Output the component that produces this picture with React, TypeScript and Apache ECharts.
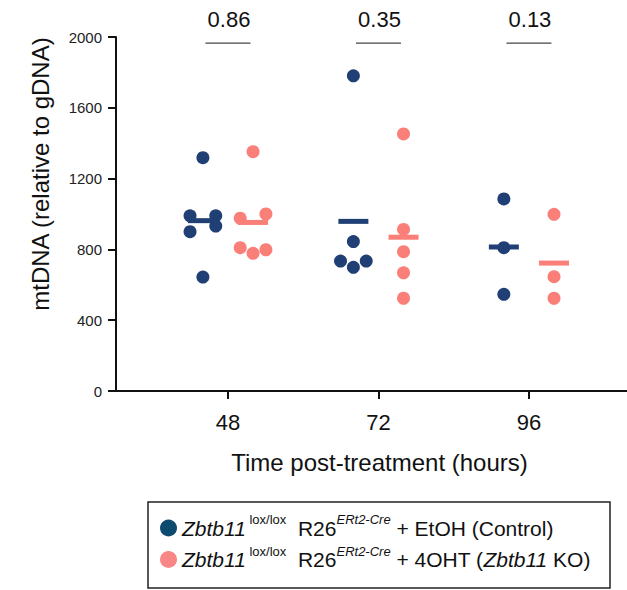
import React, { useEffect, useRef } from "react";
import * as echarts from "echarts";

// ---- data ----
const hours = [48, 72, 96];
const controlValues = [
  [1318, 990, 990, 932, 900, 644],
  [1781, 844, 734, 699, 734],
  [1085, 810, 546],
];
const koValues = [
  [1352, 976, 1000, 810, 778, 798],
  [1452, 913, 787, 668, 524],
  [998, 646, 524],
];
// swarm slot of each point (-1 left, 0 centre, +1 right)
const controlSlots = [
  [0, -1, 1, 1, -1, 0],
  [0, 0, -1, 0, 1],
  [0, 0, 0],
];
const koSlots = [
  [0, -1, 1, -1, 0, 1],
  [0, 0, 0, 0, 0],
  [0, 0, 0],
];
const pValues = ["0.86", "0.35", "0.13"];
const yTickMax = 2000;
const yTickStep = 400;

// ---- layout constants ----
const GROUP_OFFSET = 4; // hours
const SLOT_WIDTH = 2.05; // hours
const P_LINE_Y = 1965;
const NAVY = "#203f75";
const PINK = "#fa7f78";
const FONT = "'Liberation Sans', Arial, sans-serif";

const mean = (a: number[]) => a.reduce((s, v) => s + v, 0) / a.length;

function buildPoints(values: number[][], slots: number[][], sign: number) {
  const pts: number[][] = [];
  values.forEach((grp, gi) => {
    grp.forEach((v, j) => {
      pts.push([hours[gi] + sign * GROUP_OFFSET + slots[gi][j] * SLOT_WIDTH, v]);
    });
  });
  return pts;
}
function buildMeans(values: number[][], sign: number) {
  return values.map((grp, gi) => [hours[gi] + sign * GROUP_OFFSET, mean(grp)]);
}

export default function App() {
  const ref = useRef<HTMLDivElement>(null);
  useEffect(() => {
    if (!ref.current) return;
    const chart = echarts.init(ref.current, undefined, { renderer: "svg" });
    const mainTok = { fontSize: 21, fontFamily: FONT, color: "#111", lineHeight: 30, verticalAlign: "middle" };
    const itTok = { ...mainTok, fontStyle: "italic" };
    const supTok = { fontSize: 13, fontFamily: FONT, color: "#111", lineHeight: 12, verticalAlign: "top" };
    const supiTok = { ...supTok, fontStyle: "italic" };
    chart.setOption({
      animation: false,
      textStyle: { fontFamily: FONT },
      grid: { left: 116, right: 0, top: 37, bottom: 199, containLabel: false },
      xAxis: {
        type: "value",
        min: 30.14,
        max: 111.64,
        name: "Time post-treatment (hours)",
        nameLocation: "middle",
        nameGap: 59,
        nameTextStyle: { fontSize: 24, color: "#111", fontFamily: FONT, padding: [0, 0, 0, 16] },
        axisLine: { show: true, lineStyle: { color: "#111", width: 2 } },
        axisTick: { show: true, customValues: hours, length: 8, lineStyle: { color: "#111", width: 2 } },
        axisLabel: { customValues: hours, fontSize: 22, color: "#111", margin: 20, fontFamily: FONT },
        splitLine: { show: false },
      },
      yAxis: {
        type: "value",
        min: 0,
        max: yTickMax,
        interval: yTickStep,
        name: "mtDNA (relative to gDNA)",
        nameLocation: "middle",
        nameGap: 64,
        nameTextStyle: { fontSize: 24, color: "#111", fontFamily: FONT, padding: [0, 0, 0, 80] },
        axisLine: { show: true, lineStyle: { color: "#111", width: 2 } },
        axisTick: { show: true, length: 8, lineStyle: { color: "#111", width: 2 } },
        axisLabel: {
          fontSize: 15,
          color: "#222",
          margin: 14,
          fontFamily: FONT,
          formatter: (v: number) => String(v),
        },
        splitLine: { show: false },
      },
      legend: {
        orient: "vertical",
        left: 160,
        top: 513,
        itemGap: 6,
        itemWidth: 17,
        itemHeight: 17,
        icon: "circle",
        padding: 0,
        selectedMode: false,
        data: [
          { name: "Control", itemStyle: { color: "#0e4a6f" } },
          { name: "KO", itemStyle: { color: "#f98686" } },
        ],
        formatter: (name: string) =>
          name === "Control"
            ? "{it|Zbtb11}{sup| lox/lox}{n|  R26}{supi|ERt2-Cre}{n| + EtOH (Control)}"
            : "{it|Zbtb11}{sup| lox/lox}{n|  R26}{supi|ERt2-Cre}{n| + 4OHT (}{it|Zbtb11}{n| KO)}",
        textStyle: {
          fontSize: 21,
          fontFamily: FONT,
          color: "#111",
          rich: { n: mainTok, it: itTok, sup: supTok, supi: supiTok },
        },
      },
      graphic: [
        {
          type: "rect",
          shape: { x: 148, y: 502, width: 462, height: 86 },
          style: { fill: "none", stroke: "#222", lineWidth: 1.5 },
          silent: true,
        },
      ],
      series: [
        {
          name: "Control",
          type: "scatter",
          symbol: "circle",
          symbolSize: 13,
          itemStyle: { color: NAVY, opacity: 1 },
          data: buildPoints(controlValues, controlSlots, -1),
          z: 3,
        },
        {
          name: "KO",
          type: "scatter",
          symbol: "circle",
          symbolSize: 13,
          itemStyle: { color: PINK, opacity: 1 },
          data: buildPoints(koValues, koSlots, 1),
          z: 3,
        },
        {
          name: "Control",
          type: "scatter",
          symbol: "rect",
          symbolSize: [30, 5],
          itemStyle: { color: NAVY, opacity: 1 },
          data: buildMeans(controlValues, -1),
          z: 4,
        },
        {
          name: "KO",
          type: "scatter",
          symbol: "rect",
          symbolSize: [30, 5],
          itemStyle: { color: PINK, opacity: 1 },
          data: buildMeans(koValues, 1),
          z: 4,
        },
        {
          type: "custom",
          name: "p",
          clip: false,
          silent: true,
          data: hours.map((h, i) => [h, P_LINE_Y, i]),
          renderItem: (params: any, api: any) => {
            const c = api.coord([api.value(0), api.value(1)]);
            const i = api.value(2);
            return {
              type: "group",
              children: [
                {
                  type: "line",
                  shape: { x1: c[0] - 22.5, y1: c[1], x2: c[0] + 22.5, y2: c[1] },
                  style: { stroke: "#444", lineWidth: 1.2 },
                },
                {
                  type: "text",
                  x: c[0] + 1,
                  y: c[1] - 24,
                  style: {
                    text: pValues[i],
                    fontSize: 22,
                    fontFamily: FONT,
                    fill: "#111",
                    align: "center",
                    verticalAlign: "middle",
                  },
                },
              ],
            };
          },
        },
      ],
    });
    return () => chart.dispose();
  }, []);
  return <div ref={ref} style={{ width: 627, height: 590, position: "absolute", left: 0, top: 0 }} />;
}
